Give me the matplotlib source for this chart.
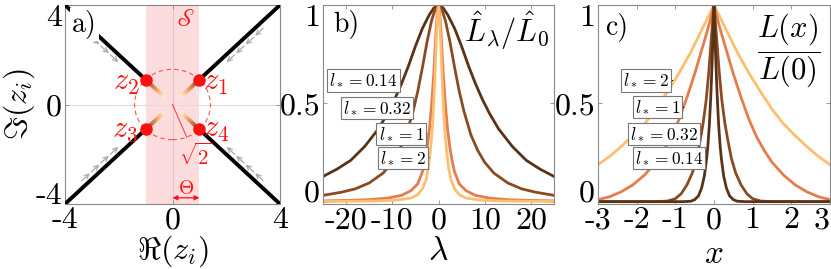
import numpy as np
import matplotlib
matplotlib.use('Agg')
import matplotlib.pyplot as plt
from matplotlib.collections import LineCollection
from matplotlib.colors import LinearSegmentedColormap
from matplotlib.patches import Circle

plt.rcParams['mathtext.fontset'] = 'cm'
plt.rcParams['font.family'] = 'serif'
plt.rcParams['font.serif'] = ['cmr10']
plt.rcParams['axes.unicode_minus'] = False

# ---- panel a: poles in the complex plane ----
pole_re = [1, -1, -1, 1]
pole_im = [1, 1, -1, -1]
pole_names = ['$z_1$', '$z_2$', '$z_3$', '$z_4$']
theta = 1.0               # half width of the strip S
circle_r = np.sqrt(2)

# ---- panel b: L_hat(lambda)/L_hat(0), one side (curves are symmetric) ----
l_star = ['0.14', '0.32', '1', '2']
lam_014 = [0, 1, 2, 3.5, 5, 6.5, 8, 9.5, 11, 13, 16, 19, 22, 25]
Lh_014 = [1, 0.985, 0.95, 0.88, 0.79, 0.69, 0.6, 0.52, 0.45, 0.37, 0.28, 0.21, 0.165, 0.128]
lam_032 = [0, 0.7, 1.5, 2.5, 3.5, 4.5, 5.5, 7, 8.5, 10, 12, 15, 18, 21, 25]
Lh_032 = [1, 0.98, 0.92, 0.81, 0.68, 0.56, 0.46, 0.34, 0.26, 0.2, 0.145, 0.095, 0.065, 0.048, 0.032]
lam_1 = [0, 0.3, 0.6, 1, 1.5, 2, 2.5, 3, 3.5, 4.5, 6, 8, 11, 15, 20, 25]
Lh_1 = [1, 0.95, 0.84, 0.66, 0.49, 0.36, 0.27, 0.2, 0.15, 0.09, 0.055, 0.032, 0.018, 0.01, 0.006, 0.004]
lam_2 = [0, 0.25, 0.5, 0.8, 1.1, 1.4, 1.8, 2.2, 2.7, 3.5, 4.5, 6, 9, 14, 25]
Lh_2 = [1, 0.93, 0.8, 0.62, 0.47, 0.35, 0.25, 0.17, 0.11, 0.065, 0.035, 0.018, 0.008, 0.003, 0.001]

# ---- panel c: L(x)/L(0), one side ----
x_2 = [0, 0.15, 0.35, 0.6, 0.9, 1.2, 1.5, 1.8, 2.1, 2.4, 2.7, 3]
L_2 = [1, 0.94, 0.86, 0.76, 0.655, 0.56, 0.47, 0.395, 0.335, 0.28, 0.23, 0.188]
x_1 = [0, 0.1, 0.2, 0.35, 0.5, 0.7, 0.9, 1.1, 1.3, 1.5, 1.8, 2.1, 2.4, 2.7, 3]
L_1 = [1, 0.92, 0.85, 0.75, 0.65, 0.53, 0.42, 0.33, 0.26, 0.2, 0.135, 0.085, 0.05, 0.025, 0.01]
x_032 = [0, 0.04, 0.08, 0.13, 0.2, 0.28, 0.36, 0.45, 0.56, 0.7, 0.85, 1.0, 1.2, 1.5, 3]
L_032 = [1, 0.9, 0.8, 0.67, 0.52, 0.4, 0.31, 0.22, 0.146, 0.085, 0.04, 0.015, 0.003, 0, 0]
x_014 = [0, 0.02, 0.05, 0.08, 0.12, 0.16, 0.19, 0.25, 0.32, 0.4, 0.5, 0.6, 0.8, 3]
L_014 = [1, 0.88, 0.7, 0.55, 0.39, 0.28, 0.22, 0.13, 0.07, 0.03, 0.01, 0.002, 0, 0]

colors = ['#5a3216', '#8a4b22', '#e47c4c', '#fdbf6f']


def mirror(xs, ys):
    xs = np.asarray(xs, float)
    ys = np.asarray(ys, float)
    return np.r_[-xs[::-1], xs[1:]], np.r_[ys[::-1], ys[1:]]


def style(ax):
    ax.tick_params(direction='in', top=True, right=True, length=3, width=0.6,
                   color='#888888', labelsize=23, pad=2)
    for s in ax.spines.values():
        s.set_color('#888888')
        s.set_linewidth(0.8)


def fix_ylabels(ax):
    labs = ax.get_yticklabels()
    labs[0].set_va('baseline')
    labs[-1].set_va('top')


def tag(ax, txt, tip):
    ax.annotate(txt, xy=tip, xytext=(-2.5, 0), textcoords='offset points',
                ha='right', va='center', fontsize=12.5,
                bbox=dict(boxstyle='square,pad=0.12', fc='white', ec='#777777', lw=0.8),
                arrowprops=dict(arrowstyle='-|>,head_length=0.5,head_width=0.25', color='k',
                                lw=0.6, shrinkA=0, shrinkB=0, mutation_scale=7))


fig = plt.figure(figsize=(8.31, 2.69), dpi=100)
H = 269.0
W = 831.0
bot = 1 - 204 / H
hgt = 199 / H
axa = fig.add_axes([65 / W, bot, 215 / W, hgt])
axb = fig.add_axes([323 / W, bot, 231 / W, hgt])
axc = fig.add_axes([598 / W, bot, 232 / W, hgt])

# ================= panel a =================
ax = axa
ax.axvspan(-theta, theta, color='#fcdcdc', zorder=0, lw=0)
ax.axhline(0, color='#dddddd', lw=0.8, zorder=0.5)
ax.axvline(0, color='#d8c8c8', lw=0.8, zorder=0.5)
ax.add_patch(Circle((0, 0), circle_r, fill=False, ec='#ff5050', lw=0.8, ls=(0, (4, 3)), zorder=2))

cmap = LinearSegmentedColormap.from_list('seg', ['#2b1406', '#b8602a', '#f5a860', '#fff0dc'])
for re, im in zip(pole_re, pole_im):
    # black branch from the pole out to the corner
    ax.plot([re, 4 * re], [im, 4 * im], color='k', lw=2.8, solid_capstyle='butt', zorder=3)
    # coloured segment towards the origin
    t = np.linspace(1.0, 0.3, 25)
    pts = np.column_stack([t * re, t * im]).reshape(-1, 1, 2)
    segs = np.concatenate([pts[:-1], pts[1:]], axis=1)
    lc = LineCollection(segs, colors=cmap(np.linspace(0, 1, len(segs))), lw=2.8, zorder=3,
                        capstyle='butt')
    ax.add_collection(lc)
    # grey arrows flowing towards the pole, next to the branch
    u = np.array([re, im]) / np.hypot(re, im)
    n = np.array([np.sign(re), -np.sign(im)]) / np.sqrt(2)
    for s in [4.55, 4.05, 3.55, 3.05]:
        start = u * s + n * 0.22
        end = u * (s - 0.42) + n * 0.22
        ax.annotate('', xy=end, xytext=start,
                    arrowprops=dict(arrowstyle='->,head_length=0.4,head_width=0.2',
                                    color='#aaaaaa', lw=0.9, shrinkA=0, shrinkB=0,
                                    mutation_scale=8), zorder=2)

ax.plot(pole_re, pole_im, 'o', color='#ff1010', ms=8, zorder=5)
for re, im, name in zip(pole_re, pole_im, pole_names):
    ax.text(1.12 * re if re > 0 else -1.27, 0.85 if im > 0 else -1.05, name, color='#ff1010',
            fontsize=22, ha='left' if re > 0 else 'right', va='center', zorder=6)

ang = np.deg2rad(-68)
ax.plot([0, circle_r * np.cos(ang)], [0, circle_r * np.sin(ang)], color='#ff3030', lw=0.7, zorder=4)
ax.text(0.87, -2.05, r'$\sqrt{2}$', color='#ff1010', fontsize=15, ha='center', va='center')
ax.annotate('', xy=(0, -3.75), xytext=(theta, -3.75),
            arrowprops=dict(arrowstyle='<|-|>,head_length=0.4,head_width=0.2', color='#ff1010',
                            lw=0.9, shrinkA=0, shrinkB=0, mutation_scale=7))
ax.text(theta / 2, -3.4, r'$\Theta$', color='#ff1010', fontsize=14, ha='center', va='center')
ax.text(0.46, 3.4, r'$\mathscr{S}$', color='#ff1010', fontsize=17, ha='center', va='center',
        math_fontfamily='stix')
ax.text(0.033, 0.975, 'a)', transform=ax.transAxes, fontsize=20, ha='left', va='top', zorder=7,
        bbox=dict(boxstyle='square,pad=0.08', fc='white', ec='none'))

ax.set_xlim(-4, 4)
ax.set_ylim(-4, 4)
ax.set_xticks([-4, 0, 4])
ax.set_xticklabels(['-4', '0', '4'])
ax.set_yticks([-4, 0, 4])
ax.set_yticklabels(['-4', '0', '4'])
style(ax)
fix_ylabels(ax)
ax.set_xlabel(r'$\Re(z_i)$', fontsize=23)
ax.xaxis.label.set_va('center')
ax.xaxis.set_label_coords(0.5, -0.235)
ax.set_ylabel(r'$\Im(z_i)$', fontsize=23)
ax.yaxis.label.set_va('center')
ax.yaxis.set_label_coords(-0.214, 0.5)

# ================= panel b =================
ax = axb
series_b = [(lam_014, Lh_014), (lam_032, Lh_032), (lam_1, Lh_1), (lam_2, Lh_2)]
for (xs, ys), c in zip(series_b, colors):
    xx, yy = mirror(xs, ys)
    ax.plot(xx, yy, color=c, lw=2.0)
tips_b = [(-8.06, 0.616), (-5.25, 0.476), (-2.38, 0.344), (-1.94, 0.222)]
for ls, tip in zip(l_star, tips_b):
    tag(ax, r'$l_* = %s$' % ls, tip)
ax.text(0.043, 0.975, 'b)', transform=ax.transAxes, fontsize=20, ha='left', va='top')
ax.text(0.797, 0.869, r'$\hat{L}_\lambda/\hat{L}_0$', transform=ax.transAxes, fontsize=22,
        ha='center', va='center')
ax.set_xlim(-25, 25)
ax.set_ylim(-0.012, 1.0)
ax.set_xticks([-20, -10, 0, 10, 20])
ax.set_xticklabels(['-20', '-10', '0', '10', '20'])
ax.set_yticks([0, 0.5, 1])
ax.set_yticklabels(['0', '0.5', '1'])
style(ax)
fix_ylabels(ax)
ax.set_xlabel(r'$\lambda$', fontsize=24)
ax.xaxis.label.set_va('center')
ax.xaxis.set_label_coords(0.5, -0.24)

# ================= panel c =================
ax = axc
series_c = [(x_014, L_014), (x_032, L_032), (x_1, L_1), (x_2, L_2)]
for (xs, ys), c in reversed(list(zip(series_c, colors))):
    xx, yy = mirror(xs, ys)
    ax.plot(xx, yy, color=c, lw=2.0)
tips_c = [(-0.19, 0.222), (-0.32, 0.345), (-0.78, 0.48), (-1.065, 0.616)]
for ls, tip in zip(l_star, tips_c):
    tag(ax, r'$l_* = %s$' % ls, tip)
ax.text(0.03, 0.96, 'c)', transform=ax.transAxes, fontsize=20, ha='left', va='top')
ax.text(0.823, 0.768, r'$\dfrac{L(x)}{L(0)}$', transform=ax.transAxes, fontsize=22,
        ha='center', va='center')
ax.set_xlim(-3, 3)
ax.set_ylim(-0.012, 1.0)
ax.set_xticks([-3, -2, -1, 0, 1, 2, 3])
ax.set_xticklabels(['-3', '-2', '-1', '0', '1', '2', '3'])
ax.get_xticklabels()[-1].set_ha('right')
ax.set_yticks([0, 0.5, 1])
ax.set_yticklabels(['0', '0.5', '1'])
style(ax)
fix_ylabels(ax)
ax.set_xlabel(r'$x$', fontsize=24)
ax.xaxis.label.set_va('center')
ax.xaxis.set_label_coords(0.5, -0.255)

fig.savefig('out.png', dpi=100)
